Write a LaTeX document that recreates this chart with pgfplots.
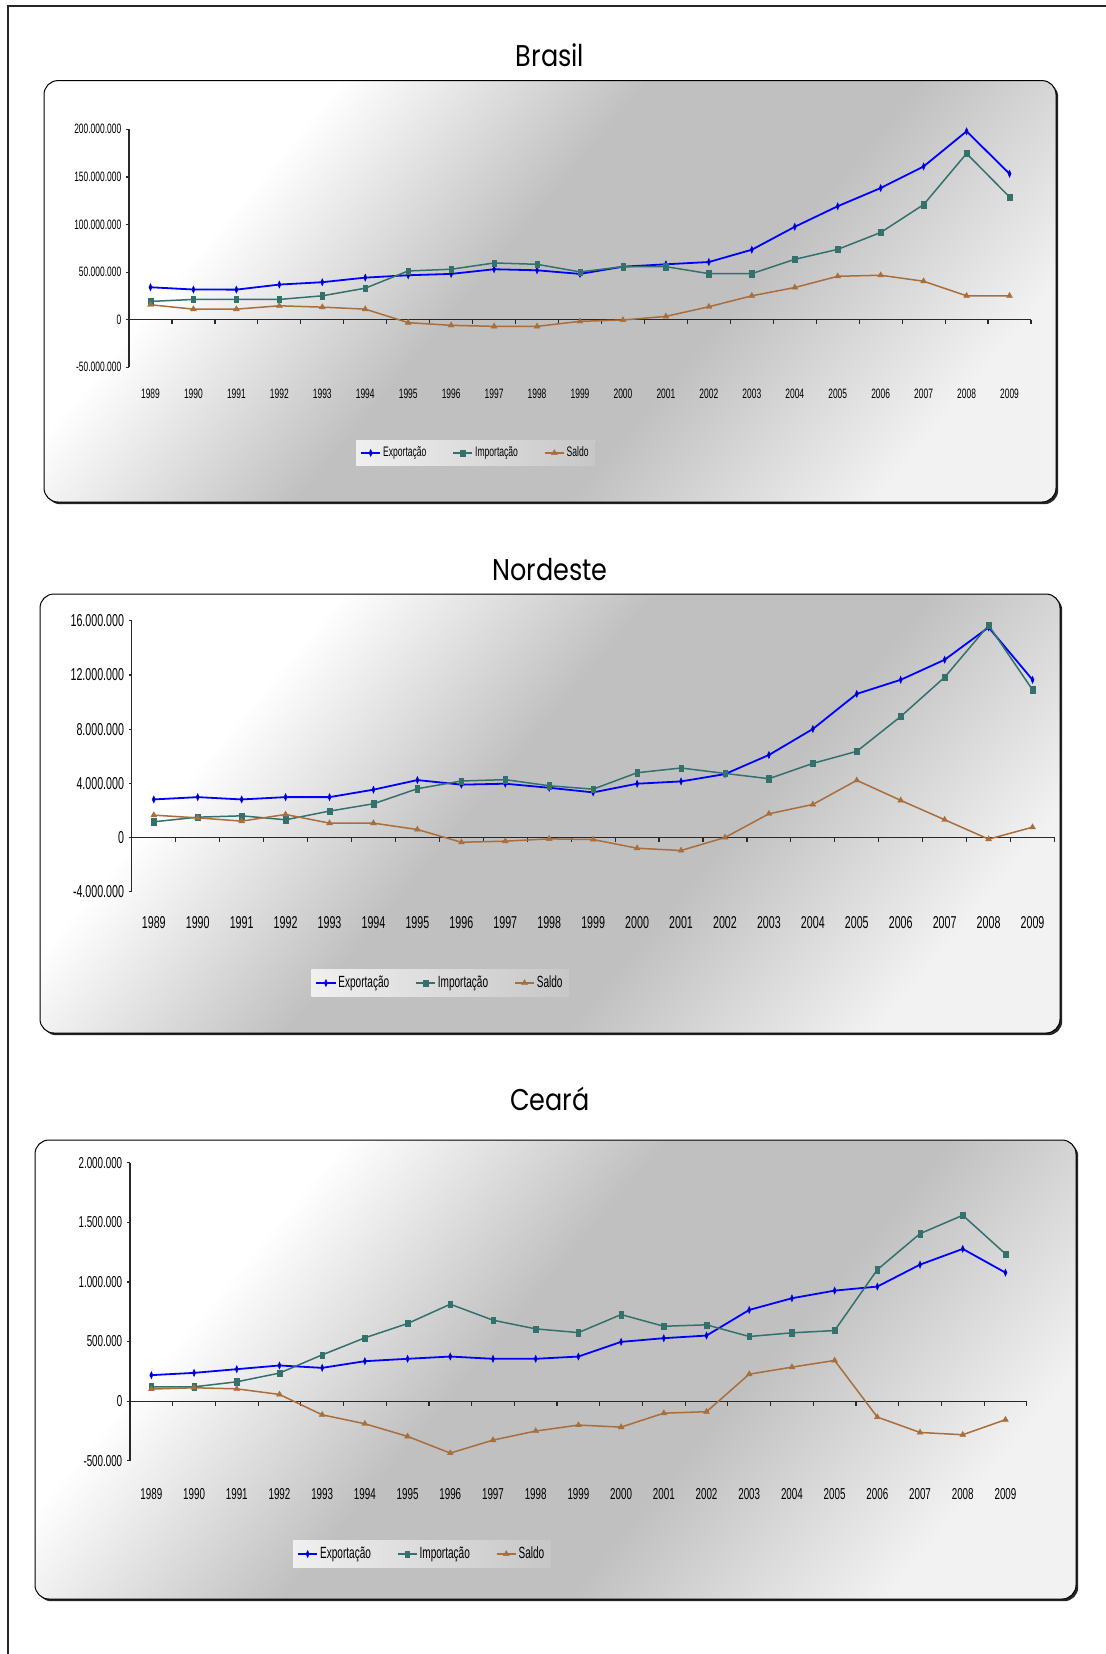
\documentclass[border=0pt]{standalone}
\usepackage{fontspec}
\setmainfont{Liberation Sans}
\newfontfamily\narrow{Liberation Sans}[FakeStretch=0.62]
\newfontfamily\titlefont{Poppins}[FakeStretch=0.85]
\usepackage{pgfplots}
\usepackage{pgfplotstable}
\pgfplotsset{compat=1.18}

\definecolor{expcol}{RGB}{0,0,255}
\definecolor{expmark}{RGB}{0,0,140}
\definecolor{impcol}{RGB}{52,112,108}
\definecolor{salcol}{RGB}{168,110,60}
\definecolor{axiscol}{RGB}{40,40,40}
\definecolor{fundo}{RGB}{192,192,192}

% diagonal white - silver - white fill of the chart areas
\pgfdeclarehorizontalshading{painelshade}{100bp}{
  color(0bp)=(white); color(30bp)=(white);
  color(46bp)=(fundo); color(60bp)=(fundo);
  color(76bp)=(white!95!black); color(100bp)=(white!95!black)}

% Brasil, in millions of US$
\pgfplotstableread{
ano  exp    imp    sal
1989 34.1   19.2   15.7
1990 31.7   21.3   11.1
1991 31.6   21.3   11.1
1992 36.9   21.3   14.6
1993 39.4   25.1   13.2
1994 44.2   33.1   11.1
1995 46.7   51.2   -3.1
1996 48.1   53.0   -5.9
1997 53.0   59.6   -7.0
1998 51.9   58.2   -7.0
1999 48.1   50.2   -1.7
2000 55.7   55.7   -0.3
2001 58.2   55.7    3.5
2002 60.6   48.4   13.6
2003 73.5   48.4   25.1
2004 97.6   63.4   33.8
2005 119.2  73.9   45.6
2006 138.3  91.6   46.7
2007 161.0  120.9  40.4
2008 197.9  174.6  25.1
2009 153.3  128.9  25.1
}\brasil

% Nordeste, in millions of US$
\pgfplotstableread{
ano  exp    imp    sal
1989 2.81   1.16   1.65
1990 2.98   1.50   1.45
1991 2.81   1.60   1.21
1992 2.98   1.31   1.70
1993 2.98   1.95   1.06
1994 3.53   2.49   1.06
1995 4.24   3.60   0.59
1996 3.90   4.17  -0.35
1997 3.97   4.27  -0.27
1998 3.67   3.82  -0.10
1999 3.33   3.57  -0.15
2000 3.97   4.78  -0.79
2001 4.14   5.13  -0.96
2002 4.68   4.73   0.00
2003 6.09   4.34   1.75
2004 8.01   5.47   2.44
2005 10.60  6.36   4.22
2006 11.64  8.93   2.74
2007 13.12  11.83  1.31
2008 15.51  15.66 -0.12
2009 11.64  10.90  0.76
}\nordeste

% Ceara, in thousands of US$
\pgfplotstableread{
ano  exp   imp   sal
1989 218   120   101
1990 237   120   112
1991 268   162   103
1992 299   235    56
1993 279   388  -115
1994 335   531  -190
1995 355   651  -296
1996 374   813  -436
1997 355   679  -327
1998 355   606  -251
1999 374   575  -201
2000 497   726  -218
2001 528   628  -101
2002 550   640   -89
2003 765   542   226
2004 863   573   285
2005 927   592   341
2006 961   1103 -134
2007 1145  1405 -263
2008 1277  1559 -282
2009 1078  1235 -156
}\ceara

\pgfplotsset{
  painel/.style={
    scale only axis, clip=false,
    xmin=-0.5, xmax=20.5,
    axis x line*=bottom, axis y line*=left,
    x axis line style={draw=none},
    y axis line style={-, line width=0.6pt, axiscol},
    xtick={0,...,20},
    xticklabels={1989,1990,1991,1992,1993,1994,1995,1996,1997,1998,1999,2000,2001,2002,2003,2004,2005,2006,2007,2008,2009},
    xtick style={draw=none},
    ytick style={line width=0.6pt, axiscol},
    tick align=outside,
    major tick length=1.5pt,
    xticklabel style={anchor=base, inner sep=0pt},
    yticklabel style={anchor=east, inner sep=0pt, xshift=-2.2pt},
    legend columns=3,
    legend style={draw=none, anchor=center, inner sep=2pt,
      left color=white!94!black, middle color=white, right color=white!78!black,
      /tikz/every even column/.append style={column sep=12pt},
      nodes={inner sep=1pt}},
    legend image code/.code={
      \draw[mark repeat=2, mark phase=2, ##1] plot coordinates {(0pt,0pt) (4.8pt,0pt) (9.6pt,0pt)};
    },
  },
  expo/.style={expcol, line width=0.9pt, mark=diamond*, mark size=1.7pt,
    mark options={solid, fill=expmark, draw=expcol, line width=0.3pt, xscale=0.6}},
  impo/.style={impcol, line width=0.75pt, mark=square*, mark size=1.25pt,
    mark options={solid, fill=impcol, draw=impcol, line width=0.2pt, yscale=1.25, xscale=0.9}},
  sald/.style={salcol, line width=0.75pt, mark=triangle*, mark size=1.7pt,
    mark options={solid, fill=salcol, draw=salcol, line width=0.2pt}},
}

% rounded chart area with a diagonal gradient and a thin shadow
\newcommand{\painel}[4]{%
  \fill[black!85, rounded corners=7pt] (#1+1.1pt,#2-1.1pt) rectangle (#3+1.1pt,#4-1.1pt);
  \shade[rounded corners=7pt, shading=painelshade, shading angle=-40] (#1,#2) rectangle (#3,#4);
  \draw[rounded corners=7pt, line width=0.5pt, black] (#1,#2) rectangle (#3,#4);
}

\begin{document}
\begin{tikzpicture}
\path[use as bounding box] (0pt,0pt) rectangle (553pt,-827pt);
\fill[white] (0pt,0pt) rectangle (553pt,-827pt);
% page frame
\draw[line width=0.9pt, black!85] (4pt,-827pt) -- (4pt,-3pt) -- (553pt,-3pt);

% ---------------- Brasil ----------------
\painel{22pt}{-40.3pt}{528pt}{-251pt}
\node[anchor=base, font=\titlefont\fontsize{15}{18}\selectfont] at (275pt,-33.3pt) {Brasil};
\begin{axis}[painel,
  at={(64.5pt,-183.65pt)}, anchor=south west,
  width=451pt, height=119pt,
  ymin=-50, ymax=200,
  ytick={-50,0,50,100,150,200},
  yticklabels={-50.000.000,0,50.000.000,100.000.000,150.000.000,200.000.000},
  yticklabel style={font=\narrow\fontsize{6.8}{8}\selectfont},
  xticklabel style={font=\narrow\fontsize{6.8}{8}\selectfont, yshift=-14pt},
  legend style={at={(0.384,-0.36)}, font=\narrow\fontsize{6.9}{8}\selectfont},
]
\draw[line width=0.6pt, axiscol] (axis cs:-0.5,0) -- (axis cs:20.5,0);
\pgfplotsinvokeforeach{0,...,21}{\draw[line width=0.6pt, axiscol] (axis cs:{#1-0.5},0) -- ++(0pt,-2.2pt);}
\addplot[expo] table[x expr=\coordindex, y=exp] {\brasil};
\addplot[impo] table[x expr=\coordindex, y=imp] {\brasil};
\addplot[sald] table[x expr=\coordindex, y=sal] {\brasil};
\legend{Exportação, Importação, Saldo}
\end{axis}

% ---------------- Nordeste ----------------
\painel{20pt}{-297pt}{530pt}{-516.5pt}
\node[anchor=base, font=\titlefont\fontsize{15}{18}\selectfont] at (275pt,-290.4pt) {Nordeste};
\begin{axis}[painel,
  at={(65.9pt,-445.85pt)}, anchor=south west,
  width=461.35pt, height=135.5pt,
  ymin=-4, ymax=16,
  ytick={-4,0,4,8,12,16},
  yticklabels={-4.000.000,0,4.000.000,8.000.000,12.000.000,16.000.000},
  yticklabel style={font=\narrow\fontsize{8.6}{10}\selectfont},
  xticklabel style={font=\narrow\fontsize{8.6}{10}\selectfont, yshift=-16.9pt},
  legend style={at={(0.334,-0.337)}, font=\narrow\fontsize{8.1}{10}\selectfont},
]
\draw[line width=0.6pt, axiscol] (axis cs:-0.5,0) -- (axis cs:20.5,0);
\pgfplotsinvokeforeach{0,...,21}{\draw[line width=0.6pt, axiscol] (axis cs:{#1-0.5},0) -- ++(0pt,-2.2pt);}
\addplot[expo] table[x expr=\coordindex, y=exp] {\nordeste};
\addplot[impo] table[x expr=\coordindex, y=imp] {\nordeste};
\addplot[sald] table[x expr=\coordindex, y=sal] {\nordeste};
\legend{Exportação, Importação, Saldo}
\end{axis}

% ---------------- Ceará ----------------
\painel{17.5pt}{-570pt}{538pt}{-799.5pt}
\node[anchor=base, font=\titlefont\fontsize{15}{18}\selectfont] at (275pt,-555pt) {Ceará};
\begin{axis}[painel,
  at={(65pt,-730.35pt)}, anchor=south west,
  width=448.4pt, height=149pt,
  ymin=-500, ymax=2000,
  ytick={-500,0,500,1000,1500,2000},
  yticklabels={-500.000,0,500.000,1.000.000,1.500.000,2.000.000},
  yticklabel style={font=\narrow\fontsize{7.9}{9}\selectfont},
  xticklabel style={font=\narrow\fontsize{7.9}{9}\selectfont, yshift=-17.8pt},
  legend style={at={(0.3253,-0.313)}, font=\narrow\fontsize{8.1}{10}\selectfont},
]
\draw[line width=0.6pt, axiscol] (axis cs:-0.5,0) -- (axis cs:20.5,0);
\pgfplotsinvokeforeach{0,...,21}{\draw[line width=0.6pt, axiscol] (axis cs:{#1-0.5},0) -- ++(0pt,-2.2pt);}
\addplot[expo] table[x expr=\coordindex, y=exp] {\ceara};
\addplot[impo] table[x expr=\coordindex, y=imp] {\ceara};
\addplot[sald] table[x expr=\coordindex, y=sal] {\ceara};
\legend{Exportação, Importação, Saldo}
\end{axis}
\end{tikzpicture}
\end{document}
